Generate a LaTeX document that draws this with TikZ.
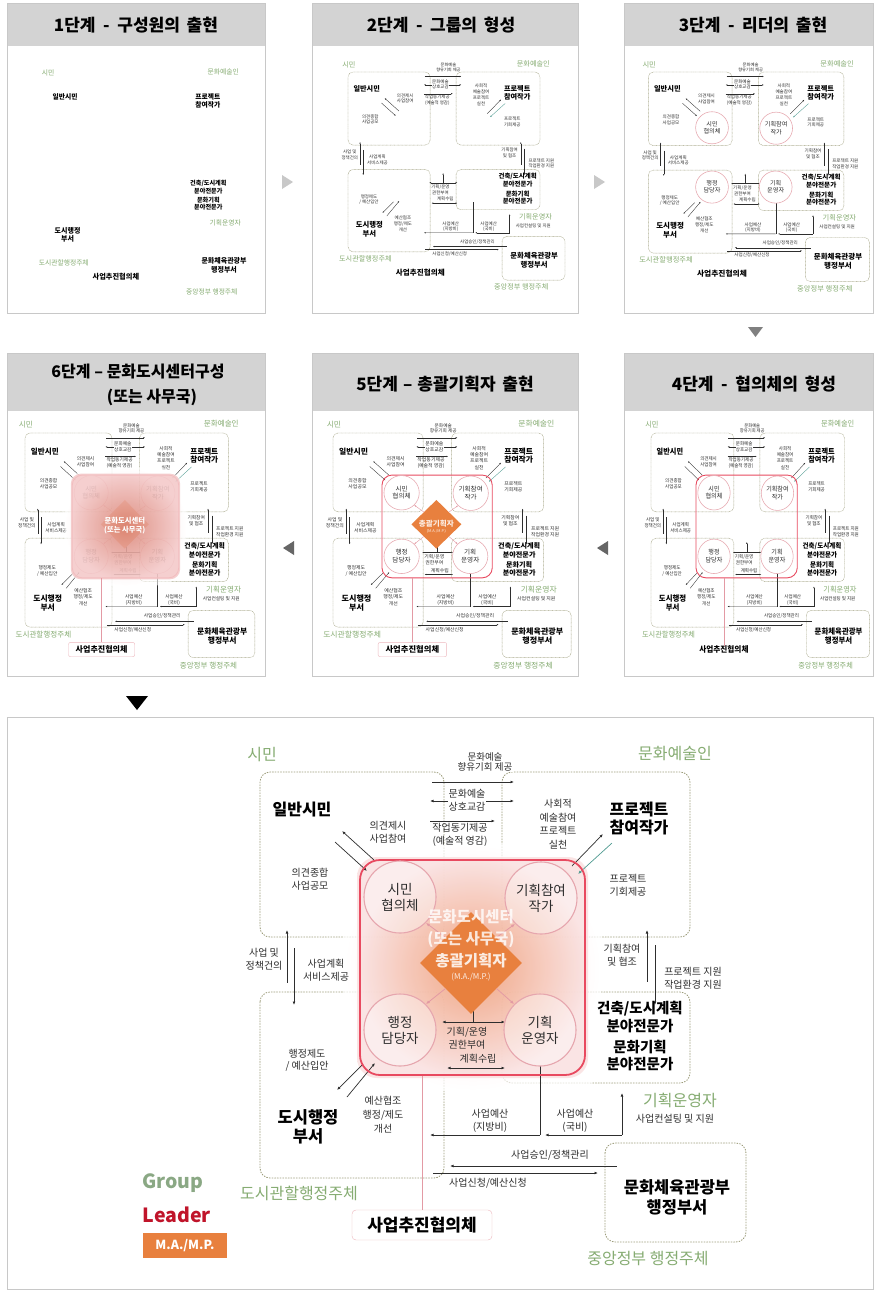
\documentclass[tikz,border=0pt]{standalone}
\usepackage{fontspec}
\setmainfont{Noto Sans CJK KR}
\usetikzlibrary{shapes.geometric,arrows.meta}
\definecolor{grn}{HTML}{86AC72}
\definecolor{dotc}{HTML}{9C9C7A}
\definecolor{redb}{HTML}{E84A60}
\definecolor{pinkc}{HTML}{E6A6AE}
\definecolor{pkline}{HTML}{E39AA4}
\definecolor{pinkbox}{HTML}{EDB8BE}
\definecolor{orng}{HTML}{E8803E}
\definecolor{hdr}{HTML}{D3D3D3}
\definecolor{frmc}{HTML}{C8C8C8}
\definecolor{txt}{HTML}{2E2E2E}
\definecolor{tealc}{HTML}{4E9A90}
\definecolor{glowin}{HTML}{EE9A72}
\definecolor{glowout}{HTML}{FAE0E0}
\definecolor{glowin6}{HTML}{D67A68}
\definecolor{glowout6}{HTML}{F2C0C0}
\definecolor{grpleg}{HTML}{8AA884}
\definecolor{leadleg}{HTML}{C0142A}
\newcount\stg
\def\lwf{1}\def\dA{0.9pt}\def\dB{1.8pt}\def\rc{10pt}\def\rcr{20pt}
\tikzset{
 kt/.tip={Latex[length=0pt 5,width=0pt 4]},
 grp/.style={draw=dotc,line width=\lwf*0.9pt,dash pattern=on \dA off \dB,line cap=round,rounded corners=\rc},
 ln/.style={draw=txt,line width=\lwf*0.7pt},
 ar/.style={ln,-kt}, arL/.style={ln,kt-}, ar2/.style={ln,kt-kt},
 sm/.style={font=\fontsize{10}{12.5}\selectfont,text=txt,align=center,inner sep=0.5pt},
 nm/.style={font=\fontsize{16}{18}\selectfont\bfseries,text=black,align=center,inner sep=0pt},
 gl/.style={font=\fontsize{16}{18}\selectfont,text=grn,inner sep=0pt},
 ct/.style={font=\fontsize{13.5}{16}\selectfont,text=txt,align=center,inner sep=0pt},
 lc/.style={circle,draw=pinkc,line width=\lwf*1.1pt,minimum size=72,inner sep=0pt,fill=white},
 redbox/.style={draw=redb,line width=\lwf*1.8pt,rounded corners=\rcr,minimum width=225,minimum height=215,inner sep=0pt},
 dia/.style={diamond,aspect=1,fill=orng,minimum size=102,inner sep=0pt},
 pkar/.style={draw=pkline,line width=\lwf*0.8pt,-kt},
 pkl/.style={draw=pkline,line width=\lwf*1pt},
 pkst/.style={},
 hd/.style={font=\fontsize{17}{21}\selectfont\bfseries,inner sep=0pt,align=center},
 frm/.style={draw=frmc,line width=1pt},
}
\newcommand\diag{%
\ifnum\stg>4 \tikzset{pkst/.style={draw=pinkbox,fill=white,rounded corners=\rc*0.4,minimum width=140,minimum height=30}}\fi
\ifnum\stg>1
 \draw[grp] (260,772) rectangle (444,937);
 \draw[grp] (502,772) rectangle (690,937);
 \draw[grp] (260,992) rectangle (444,1178);
 \draw[grp] (502,992) rectangle (690,1083);
 \draw[grp] (605,1143) rectangle (746,1242);
\fi
\ifnum\stg=7
 \shade[inner color=glowout,outer color=white,rounded corners=30pt,opacity=0.7] (344,844) rectangle (601,1091);
 \shade[inner color=glowin,outer color=glowout,rounded corners=\rcr,opacity=0.85] (357,857) rectangle (588,1078);
\fi
\ifnum\stg>1
 \draw[ar] (432,782) -- (514,782);
 \draw[ar2] (430,801) -- (514,801);
 \draw[ar] (430,821) -- (495,821);
 \node[sm,fill=white,font=\fontsize{9.5}{10}\selectfont] at (485,762) {문화예술\\향유기회 제공};
 \node[sm,fill=white] at (467,800) {문화예술\\상호교감};
 \node[sm] at (460,835) {작업동기제공\\(예술적 영감)};
 \draw[ar] (374,860) -- (342,831);
 \draw[ar] (335,842) -- (367,871);
 \node[sm] at (388,832) {의견제시\\사업참여};
 \node[sm] at (310,879) {의견종합\\사업공모};
 \draw[ar] (572,866) -- (603,834);
 \draw[ar,draw=tealc] (612,843) -- (578,874);
 \node[sm,font=\fontsize{10}{13.5}\selectfont] at (558,824) {사회적\\예술참여\\프로젝트\\실천};
 \node[sm] at (628,885) {프로젝트\\기회제공};
 \draw[ar] (362,1065) -- (337,1090);
 \draw[ar] (347,1097) -- (375,1063);
 \node[sm] at (307,1060) {행정제도\\/ 예산입안};
 \node[sm,font=\fontsize{10}{14}\selectfont] at (383,1115) {예산협조\\행정/제도\\개선};
 \draw[arL] (287,930) -- (287,983);
 \draw[ar] (294,948) -- (294,1005);
 \node[sm] at (264,959) {사업 및\\정책건의};
 \node[sm] at (326,970) {사업계획\\서비스제공};
 \draw[arL] (647,930) -- (647,982);
 \draw[ar] (655,945) -- (655,1005);
 \node[sm] at (622,955) {기획참여\\및 협조};
 \node[sm] at (693,978) {프로젝트 지원\\작업환경 지원};
 \draw[arL] (473,1000) -- (473,1022);
 \draw[ar2] (442,1022) -- (505,1022);
 \node[sm] at (467,1038) {기획/운영\\권한부여};
 \node[sm] at (478,1059) {계획수립};
 \draw[ar2] (447,1068) -- (505,1068);
 \coordinate (c4s) at (540,1066);
 \coordinate (bud) at (540,1135);
 \draw[ln] (c4s) -- (bud);
 \draw[arL] (430,1135) -- (bud);
 \draw[arL] (545,1135) -- (622,1135);
 \draw[arL] (622,1093) -- (622,1135);
 \node[sm] at (490,1121) {사업예산\\(지방비)};
 \node[sm] at (575,1121) {사업예산\\(국비)};
 \node[sm] at (675,1119) {사업컨설팅 및 지원};
 \node[sm] at (550,1155) {사업승인/정책관리};
 \draw[arL] (450,1166) -- (617,1166);
 \draw[ar] (433,1173) -- (598,1173);
 \node[sm] at (488,1183) {사업신청/예산신청};
\fi
\ifnum\stg>3
 \node[redbox] (rb) at (472.5,967.5) {};
\fi
\ifnum\stg>2
 \node[lc] (c1) at (400,897) {};
 \node[lc] (c2) at (541,898) {};
 \node[lc] (c3) at (400,1030) {};
 \node[lc] (c4) at (540,1030) {};
 \node[ct] at (c1) {시민\\협의체};
 \node[ct] at (c2) {기획참여\\작가};
 \node[ct] at (c3) {행정\\담당자};
 \node[ct] at (c4) {기획\\운영자};
\fi
\ifnum\stg>4
 \node[dia] (dm) at (471,963) {};
 \draw[pkar] (dm.north west) -- (c1.south east);
 \draw[pkar] (dm.north east) -- (c2.south west);
 \draw[pkar] (dm.south west) -- (c3.north east);
 \draw[pkar] (dm.south east) -- (c4.north west);
 \ifnum\stg=6\else
 \node[font=\fontsize{15.5}{17}\selectfont\bfseries,text=white,text opacity=0.85,inner sep=0pt] at (471,961) {총괄기획자};
 \node[font=\fontsize{8}{9}\selectfont,text=white,text opacity=0.85,inner sep=0pt] at (471,977) {(M.A./M.P.)};
 \fi
\fi
\ifnum\stg=6
 \shade[inner color=glowout6,outer color=white,rounded corners=30pt,opacity=0.6] (344,844) rectangle (601,1091);
 \shade[inner color=glowin6,outer color=glowout6,rounded corners=\rcr,opacity=0.75] (357,857) rectangle (588,1078);
 \node[font=\fontsize{15.5}{20}\selectfont\bfseries,text=white,align=center,inner sep=0pt] at (471,966) {문화도시센터\\(또는 사무국)};
\fi
\ifnum\stg=7
 \node[font=\fontsize{15.5}{22}\selectfont\bfseries,text=white,text opacity=0.8,align=center,inner sep=0pt] at (471,929) {문화도시센터\\(또는 사무국)};
\fi
 \node[gl] (g1) at (262,755) {시민};
 \node[gl] (g2) at (675,753) {문화예술인};
 \node[gl] (g3) at (680,1100) {기획운영자};
 \node[gl] (g4) at (299,1193) {도시관할행정주체};
 \node[gl] (g5) at (648,1258) {중앙정부 행정주체};
 \node[nm] (n1) at (302,810) {일반시민};
 \node[nm] (n2) at (639,819) {프로젝트\\참여작가};
 \node[nm,font=\fontsize{14.5}{18}\selectfont\bfseries] (n3) at (640,1017) {건축/도시계획\\분야전문가};
 \node[nm,font=\fontsize{14.5}{17}\selectfont\bfseries] (n4) at (640,1056) {문화기획\\분야전문가};
 \node[nm,font=\fontsize{16.5}{19}\selectfont\bfseries] (n5) at (308,1127) {도시행정\\부서};
 \node[nm,font=\fontsize{16.5}{20}\selectfont\bfseries] (n6) at (677,1197) {문화체육관광부\\행정부서};
 \node[nm,font=\fontsize{17}{20}\selectfont\bfseries,pkst] (pk) at (422,1225) {사업추진협의체};
\ifnum\stg>3
 \draw[pkl] (rb.south -| pk.north) -- (pk.north);
\fi
}
\newcommand\thumb[5]{%
 \begin{scope}[shift={(#2,#3)},xscale=#4,yscale=#5,transform shape]
 \stg=#1\relax
 \def\lwf{0.5}\def\dA{0.45pt}\def\dB{0.9pt}\def\rc{5pt}\def\rcr{10pt}
 \diag
 \end{scope}}
\begin{document}
\begin{tikzpicture}[x=1pt,y=-1pt]
\useasboundingbox (0,0) rectangle (878,1293);
\fill[white] (0,0) rectangle (878,1293);
% panels row 1
\fill[hdr] (7,3) rectangle (265,46);
\fill[hdr] (312,3) rectangle (578,46);
\fill[hdr] (624,3) rectangle (873,46);
\draw[frm] (7,3) rectangle (265,313);
\draw[frm] (312,3) rectangle (578,313);
\draw[frm] (624,3) rectangle (873,313);
\node[hd] (h1) at (136,25) {1단계\hspace{0.45em}-\hspace{0.45em}구성원의\hspace{0.4em}출현};
\node[hd] (h2) at (441,25) {2단계\hspace{0.45em}-\hspace{0.45em}그룹의\hspace{0.4em}형성};
\node[hd] (h3) at (753,25) {3단계\hspace{0.45em}-\hspace{0.45em}리더의\hspace{0.4em}출현};
% panels row 2
\fill[hdr] (7,353) rectangle (265,411);
\fill[hdr] (312,353) rectangle (578,411);
\fill[hdr] (624,353) rectangle (873,411);
\draw[frm] (7,353) rectangle (265,676);
\draw[frm] (312,353) rectangle (578,676);
\draw[frm] (624,353) rectangle (873,676);
\node[hd,font=\fontsize{16}{20}\selectfont\bfseries] (h6a) at (138,372) {6단계 – 문화도시센터구성};
\node[hd,font=\fontsize{16}{20}\selectfont\bfseries] (h6b) at (152,397) {(또는 사무국)};
\node[hd] (h5) at (445,384) {5단계\hspace{0.3em}–\hspace{0.3em}총괄기획자\hspace{0.4em}출현};
\node[hd] (h4) at (754,384) {4단계\hspace{0.45em}-\hspace{0.45em}협의체의\hspace{0.4em}형성};
% arrows between panels
\fill[frmc] (282,175) -- (293,182) -- (282,189) -- cycle;
\fill[frmc] (594,175) -- (605,182) -- (594,189) -- cycle;
\fill[black!50] (748,327) -- (763,327) -- (755.5,337) -- cycle;
\fill[black!60] (608,541) -- (597,548) -- (608,555) -- cycle;
\fill[black!60] (294,541) -- (283,548) -- (294,555) -- cycle;
\fill[black] (126,696) -- (148,696) -- (137,710) -- cycle;
% thumbnails
\thumb{1}{-63}{-254.5}{0.424}{0.434}
\thumb{2}{231.9}{-270}{0.4465}{0.443}
\thumb{3}{530}{-272.3}{0.455}{0.446}
\thumb{6}{-98}{64}{0.473}{0.478}
\thumb{5}{205.6}{64}{0.49}{0.478}
\thumb{4}{534}{64}{0.45}{0.478}
% big panel
\draw[frm] (7,717) rectangle (873,1289);
\begin{scope}
 \stg=7\relax
 \tikzset{lc/.append style={fill=white,fill opacity=0.35,text opacity=1}}
 \diag
\end{scope}
\node[font=\fontsize{19.5}{22}\selectfont\bfseries,text=grpleg,inner sep=0pt] (lg1) at (173,1183) {Group};
\node[font=\fontsize{19.5}{22}\selectfont\bfseries,text=leadleg,inner sep=0pt] (lg2) at (177,1215) {Leader};
\node[fill=orng,text=white,font=\fontsize{12.5}{14}\selectfont\bfseries,minimum width=84,minimum height=25,inner sep=0pt] (lg3) at (185,1245.5) {M.A./M.P.};
\end{tikzpicture}
\end{document}
